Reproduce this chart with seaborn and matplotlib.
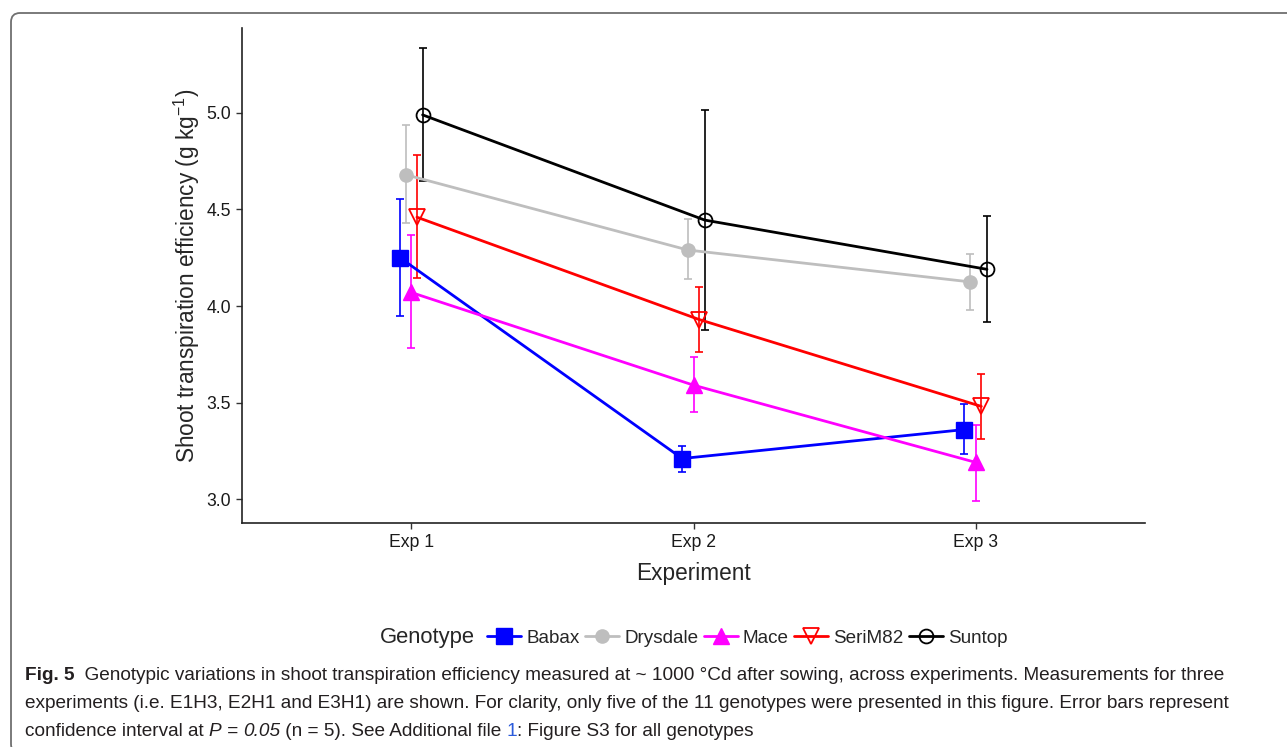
import numpy as np
import pandas as pd
import matplotlib
matplotlib.use("Agg")
import matplotlib.pyplot as plt
import seaborn as sns
from matplotlib.lines import Line2D
from matplotlib.patches import FancyBboxPatch

# ---------------- data ----------------
experiments = ["Exp 1", "Exp 2", "Exp 3"]
genotypes = ["Babax", "Drysdale", "Mace", "SeriM82", "Suntop"]

babax_mean = [4.25, 3.21, 3.36]
babax_lo = [3.95, 3.14, 3.235]
babax_hi = [4.555, 3.275, 3.49]

drysdale_mean = [4.68, 4.29, 4.125]
drysdale_lo = [4.43, 4.14, 3.98]
drysdale_hi = [4.94, 4.45, 4.27]

mace_mean = [4.07, 3.59, 3.19]
mace_lo = [3.78, 3.45, 2.99]
mace_hi = [4.37, 3.735, 3.385]

serim82_mean = [4.46, 3.93, 3.48]
serim82_lo = [4.145, 3.76, 3.31]
serim82_hi = [4.78, 4.10, 3.65]

suntop_mean = [4.99, 4.445, 4.19]
suntop_lo = [4.65, 3.875, 3.915]
suntop_hi = [5.335, 5.015, 4.465]

y_ticks = [3.0, 3.5, 4.0, 4.5, 5.0]

rows = []
series = {
    "Babax": (babax_mean, babax_lo, babax_hi),
    "Drysdale": (drysdale_mean, drysdale_lo, drysdale_hi),
    "Mace": (mace_mean, mace_lo, mace_hi),
    "SeriM82": (serim82_mean, serim82_lo, serim82_hi),
    "Suntop": (suntop_mean, suntop_lo, suntop_hi),
}
for g, (m, lo, hi) in series.items():
    for i, e in enumerate(experiments):
        rows.append(dict(Genotype=g, Experiment=e, idx=i, mean=m[i], lo=lo[i], hi=hi[i]))
df = pd.DataFrame(rows)

# ---------------- style ----------------
sns.set_theme(style="ticks")
plt.rcParams["font.family"] = ["Liberation Sans", "DejaVu Sans"]
plt.rcParams["mathtext.fontset"] = "custom"
plt.rcParams["mathtext.rm"] = "Liberation Sans"
plt.rcParams["mathtext.it"] = "Liberation Sans:italic"

colors = {"Babax": "#0000FF", "Drysdale": "#BEBEBE", "Mace": "#FF00FF",
          "SeriM82": "#FF0000", "Suntop": "#000000"}
markers = {"Babax": dict(marker="s", ms=11, mfc="#0000FF", mec="#0000FF"),
           "Drysdale": dict(marker="o", ms=9.5, mfc="#BEBEBE", mec="#BEBEBE"),
           "Mace": dict(marker="^", ms=12, mfc="#FF00FF", mec="#FF00FF"),
           "SeriM82": dict(marker="v", ms=12, mfc="none", mec="#FF0000", mew=1.3),
           "Suntop": dict(marker="o", ms=10, mfc="none", mec="#000000", mew=1.3)}
offsets = {"Babax": -0.04, "Drysdale": -0.02, "Mace": 0.0, "SeriM82": 0.02, "Suntop": 0.04}

fig = plt.figure(figsize=(12.87, 7.47), dpi=100)
ax = fig.add_axes([242 / 1287, 1 - 523 / 747, (1145 - 242) / 1287, (523 - 28) / 747])

df["x"] = df["idx"] + df["Genotype"].map(offsets)

for g in genotypes:
    d = df[df["Genotype"] == g]
    ax.errorbar(d["x"], d["mean"], yerr=[d["mean"] - d["lo"], d["hi"] - d["mean"]],
                fmt="none", ecolor=colors[g], elinewidth=1.2, capsize=3.0,
                capthick=1.2, zorder=2)
for g in genotypes:
    d = df[df["Genotype"] == g]
    sns.lineplot(data=d, x="x", y="mean", color=colors[g], lw=2.0, ax=ax,
                 legend=False, zorder=3, sort=False)
for g in genotypes:
    d = df[df["Genotype"] == g]
    ax.plot(d["x"], d["mean"], ls="none", zorder=4, **markers[g])

ax.set_xlim(-0.6, 2.6)
ax.set_ylim(2.876, 5.44)
ax.set_xticks(range(len(experiments)))
ax.set_xticklabels(experiments)
ax.set_yticks(y_ticks)
ax.set_yticklabels([f"{v:.1f}" for v in y_ticks])
ax.tick_params(axis="both", labelsize=12.7, length=4, width=1, color="#333333",
               labelcolor="#1a1a1a", pad=4)
for s in ["top", "right"]:
    ax.spines[s].set_visible(False)
for s in ["left", "bottom"]:
    ax.spines[s].set_linewidth(1.2)
    ax.spines[s].set_color("#222222")
ax.set_xlabel("Experiment", fontsize=16.3, labelpad=8)
ax.set_ylabel(r"Shoot transpiration efficiency (g kg$^{-1}$)", fontsize=16.3, labelpad=3)

# legend
fig.text(380 / 1287, 1 - 638 / 747, "Genotype", fontsize=15.8, va="center", ha="left")
handles = [Line2D([0], [0], color=colors[g], lw=2.0, **markers[g]) for g in genotypes]
fig.legend(handles, genotypes, loc="center left", bbox_to_anchor=(487 / 1287, 1 - 638 / 747),
           ncol=5, frameon=False, fontsize=13.6, handlelength=1.8, handletextpad=0.28,
           columnspacing=0.28, borderaxespad=0, borderpad=0)

# caption frame
frame = FancyBboxPatch((11, -6), 1400, 747 - 13 + 6,
                       boxstyle="round,pad=0,rounding_size=9", transform=None,
                       fill=False, ec="#707070", lw=1.3, clip_on=False)
fig.patches.append(frame)

# caption text (rich runs)
cap_family = ["Liberation Sans", "DejaVu Sans"]
renderer = fig.canvas.get_renderer()

line1 = [("Fig. 5", dict(weight="bold")),
         ("  Genotypic variations in shoot transpiration efficiency measured at ~ 1000 °Cd after sowing, across experiments. Measurements for three", {})]
line2 = [("experiments (i.e. E1H3, E2H1 and E3H1) are shown. For clarity, only five of the 11 genotypes were presented in this figure. Error bars represent", {})]
line3 = [("confidence interval at ", {}), ("P", dict(style="italic")), (" = ", {}),
         ("0.05", dict(style="italic")), (" (n = 5). See Additional file ", {}),
         ("1", dict(color="#2B5BDB")), (": Figure S3 for all genotypes", {})]


def runs(x_px, y_px, parts, size, draw=True):
    x = x_px
    made = []
    for txt, kw in parts:
        kw = dict(kw)
        col = kw.pop("color", "#231f20")
        t = fig.text(x, 747 - y_px, txt, transform=None, fontsize=size,
                     family=cap_family, va="center", ha="left", color=col, **kw)
        bb = t.get_window_extent(renderer=renderer)
        x = bb.x1
        made.append(t)
    if not draw:
        for t in made:
            t.remove()
    return x


base = 12.0
w = runs(25, 676, line1, base, draw=False) - 25
cap_size = base * (1233 - 25) / w

runs(25, 676, line1, cap_size)
runs(25, 704, line2, cap_size)
runs(25, 731, line3, cap_size)

fig.savefig("out.png", dpi=100)
